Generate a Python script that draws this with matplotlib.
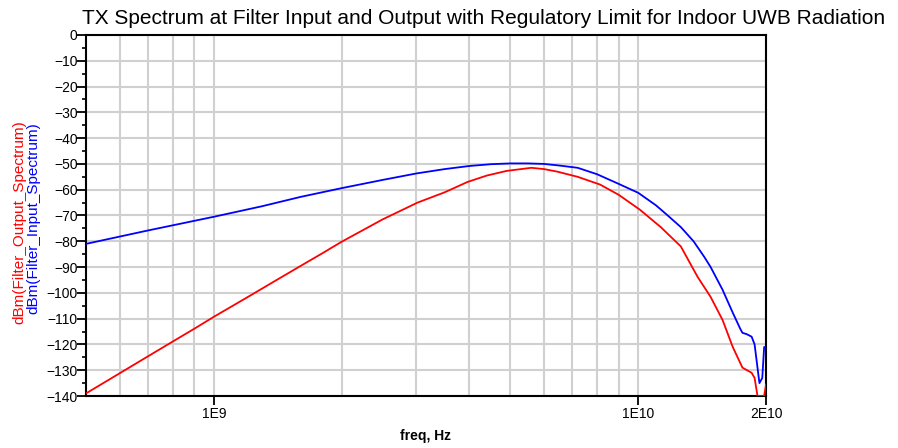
import matplotlib
matplotlib.use('Agg')
import matplotlib.pyplot as plt
from matplotlib.ticker import FixedLocator, MultipleLocator, NullFormatter

# Filter input spectrum (blue)
freq_in = [5e8, 7e8, 1e9, 1.3e9, 1.6e9, 2e9, 2.5e9, 3e9, 3.5e9, 4e9, 4.5e9, 5e9,
           5.5e9, 6e9, 6.5e9, 7.2e9, 8e9, 8.9e9, 1.0e10, 1.1e10, 1.17e10, 1.26e10,
           1.35e10, 1.43e10, 1.48e10, 1.58e10, 1.67e10, 1.74e10, 1.76e10, 1.8e10,
           1.85e10, 1.88e10, 1.93e10, 1.96e10, 1.98e10, 2e10]
dbm_in = [-81, -75.8, -70.5, -66.4, -62.8, -59.4, -56.2, -53.7, -52.0, -50.8, -50.1, -49.8,
          -49.8, -50.0, -50.6, -51.5, -54, -57.4, -61.2, -66, -69.8, -74.5,
          -80, -86, -89.9, -98.8, -107.7, -114, -115.5, -116,
          -117, -120, -135, -133, -121, -121]

# Filter output spectrum (red)
freq_out = [5e8, 6e8, 7e8, 8e8, 9e8, 1e9, 1.2e9, 1.4e9, 1.6e9, 1.8e9, 2e9, 2.5e9,
            3.02e9, 3.5e9, 3.96e9, 4.4e9, 4.9e9, 5.6e9, 6e9, 6.45e9, 7.2e9, 8.13e9,
            9e9, 1.01e10, 1.13e10, 1.26e10, 1.38e10, 1.48e10, 1.58e10, 1.67e10,
            1.76e10, 1.85e10, 1.88e10, 1.91e10, 1.98e10, 2e10]
dbm_out = [-139, -131.2, -124.6, -118.9, -113.9, -109.3, -101.7, -95.2, -89.6, -84.7, -80.2, -71.5,
           -65.0, -61.0, -57, -54.5, -52.7, -51.5, -52, -53, -55, -58,
           -62, -67.8, -74.5, -82, -93.8, -101.5, -110.5, -121,
           -129, -131, -133, -140, -140, -135.6]

x_major = [1e9, 1e10, 2e10]
x_labels = ['1E9', '1E10', '2E10']
x_grid = [6e8, 7e8, 8e8, 9e8, 2e9, 3e9, 4e9, 5e9, 6e9, 7e9, 8e9, 9e9]

title = 'TX Spectrum at Filter Input and Output with Regulatory Limit for Indoor UWB Radiation'

plt.rcParams['font.family'] = ['Liberation Sans', 'DejaVu Sans']

fig = plt.figure(figsize=(8.98, 4.48), dpi=100)
ax = fig.add_axes([86 / 898, 52 / 448, 680 / 898, 361 / 448])

ax.plot(freq_in, dbm_in, color='#0000ff', lw=1.3, zorder=3)
ax.plot(freq_out, dbm_out, color='#ff0000', lw=1.3, zorder=3)

ax.set_xscale('log')
ax.set_xlim(5e8, 2e10)
ax.set_ylim(-140, 0)

ax.xaxis.set_major_locator(FixedLocator(x_major))
ax.set_xticklabels(x_labels)
ax.xaxis.set_minor_locator(FixedLocator(x_grid))
ax.xaxis.set_minor_formatter(NullFormatter())
ax.yaxis.set_major_locator(MultipleLocator(10))
ax.yaxis.set_minor_locator(MultipleLocator(5))

ax.grid(True, which='major', color='#d0d0d0', lw=1.5, zorder=0)
ax.grid(True, which='minor', axis='x', color='#d0d0d0', lw=1.5, zorder=0)

ax.tick_params(axis='both', which='major', direction='out', length=6.5, width=1.3,
               pad=-0.5, labelsize=10)
ax.tick_params(axis='y', which='minor', direction='out', length=3, width=1.2)
ax.tick_params(axis='x', which='minor', length=0)
ax.tick_params(axis='x', which='major', pad=1.5)

for s in ax.spines.values():
    s.set_linewidth(1.5)
    s.set_color('black')

fig.text(82 / 898, 1 - 18 / 448, title, ha='left', va='center', fontsize=15)
fig.text(19 / 898, 1 - 222 / 448, 'dBm(Filter_Output_Spectrum)', color='#ff0000',
         rotation=90, ha='center', va='center', fontsize=11)
fig.text(33 / 898, 1 - 218 / 448, 'dBm(Filter_Input_Spectrum)', color='#0000ff',
         rotation=90, ha='center', va='center', fontsize=11)
fig.text(426 / 898, 1 - 436 / 448, 'freq, Hz', ha='center', va='center',
         fontsize=10, fontweight='bold')

fig.savefig('out.png', dpi=100)
